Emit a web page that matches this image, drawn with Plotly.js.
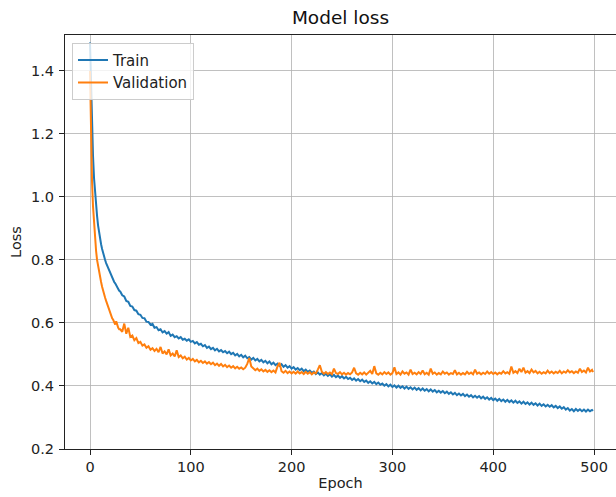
<!DOCTYPE html>
<html>
<head>
<meta charset="utf-8">
<script src="https://cdn.plot.ly/plotly-3.0.1.min.js"></script>
<style>html,body{margin:0;padding:0;background:#fff;}#chart{width:616px;height:497px;}</style>
</head>
<body>
<div id="chart"></div>
<script>
const epochs = [0,1,2,3,4,5,6,7,8,9,10,11,12,13,14,15,16,17,18,19,20,21,22,23,24,25,26,27,28,29,
30,32,34,36,38,40,42,44,46,48,
50,52,54,56,58,60,62,64,66,68,
70,72,74,76,78,80,82,84,86,88,
90,92,94,96,98,100,102,104,106,108,
110,112,114,116,118,120,122,124,126,128,
130,132,134,136,138,140,142,144,146,148,
150,152,154,156,158,160,162,164,166,168,
170,172,174,176,178,180,182,184,186,188,
190,192,194,196,198,200,202,204,206,208,
210,212,214,216,218,220,222,224,226,228,
230,232,234,236,238,240,242,244,246,248,
250,252,254,256,258,260,262,264,266,268,
270,272,274,276,278,280,282,284,286,288,
290,292,294,296,298,300,302,304,306,308,
310,312,314,316,318,320,322,324,326,328,
330,332,334,336,338,340,342,344,346,348,
350,352,354,356,358,360,362,364,366,368,
370,372,374,376,378,380,382,384,386,388,
390,392,394,396,398,400,402,404,406,408,
410,412,414,416,418,420,422,424,426,428,
430,432,434,436,438,440,442,444,446,448,
450,452,454,456,458,460,462,464,466,468,
470,472,474,476,478,480,482,484,486,488,
490,492,494,496,498,499];

const trainLoss = [1.49,1.33,1.22,1.13,1.06,1.01,0.97,0.94,0.91,0.885,0.865,0.85,0.835,0.82,0.81,0.80,0.79,0.782,0.772,0.768,0.762,0.752,0.745,0.738,0.73,0.726,0.718,0.713,0.708,0.702,
0.700,0.688,0.684,0.670,0.667,0.654,0.652,0.641,0.639,0.628,
0.626,0.616,0.615,0.604,0.603,0.594,0.597,0.585,0.587,0.577,
0.580,0.570,0.574,0.566,0.571,0.559,0.563,0.555,0.558,0.551,
0.555,0.547,0.550,0.544,0.548,0.540,0.543,0.535,0.539,0.531,
0.534,0.526,0.530,0.521,0.525,0.517,0.521,0.513,0.518,0.510,
0.514,0.507,0.511,0.504,0.509,0.501,0.505,0.497,0.502,0.494,
0.499,0.491,0.496,0.488,0.492,0.484,0.489,0.481,0.486,0.478,
0.483,0.475,0.480,0.472,0.478,0.469,0.474,0.466,0.471,0.464,
0.469,0.461,0.466,0.458,0.463,0.455,0.460,0.452,0.457,0.450,
0.455,0.447,0.452,0.445,0.449,0.442,0.446,0.438,0.443,0.436,
0.441,0.434,0.439,0.432,0.437,0.430,0.435,0.428,0.433,0.426,
0.431,0.424,0.429,0.422,0.426,0.419,0.424,0.417,0.422,0.415,
0.420,0.413,0.417,0.410,0.415,0.408,0.413,0.406,0.411,0.404,
0.408,0.401,0.406,0.399,0.404,0.397,0.402,0.395,0.401,0.394,
0.399,0.392,0.398,0.391,0.396,0.389,0.395,0.388,0.393,0.386,
0.392,0.385,0.390,0.383,0.389,0.382,0.387,0.380,0.385,0.379,
0.384,0.377,0.382,0.375,0.380,0.373,0.378,0.371,0.376,0.370,
0.375,0.368,0.373,0.366,0.371,0.364,0.369,0.363,0.368,0.361,
0.366,0.359,0.364,0.357,0.362,0.355,0.360,0.353,0.359,0.352,
0.357,0.350,0.356,0.349,0.354,0.347,0.353,0.346,0.351,0.344,
0.350,0.343,0.348,0.341,0.347,0.340,0.345,0.338,0.344,0.337,
0.342,0.335,0.340,0.334,0.339,0.332,0.337,0.330,0.335,0.328,
0.333,0.325,0.330,0.322,0.327,0.320,0.327,0.321,0.326,0.320,
0.325,0.319,0.325,0.320,0.324,0.321];

const valLoss = [1.40,1.17,1.05,0.97,0.91,0.86,0.83,0.80,0.78,0.765,0.745,0.73,0.715,0.70,0.69,0.68,0.67,0.66,0.65,0.64,0.635,0.625,0.615,0.61,0.60,0.595,0.605,0.59,0.585,0.58,
0.580,0.572,0.598,0.566,0.585,0.556,0.560,0.545,0.552,0.536,
0.540,0.528,0.532,0.521,0.526,0.515,0.520,0.511,0.518,0.507,
0.524,0.503,0.510,0.500,0.516,0.497,0.503,0.494,0.513,0.492,
0.497,0.488,0.493,0.484,0.489,0.481,0.486,0.478,0.483,0.475,
0.480,0.473,0.478,0.471,0.476,0.469,0.474,0.466,0.471,0.464,
0.470,0.462,0.467,0.460,0.465,0.458,0.463,0.456,0.461,0.455,
0.459,0.453,0.458,0.470,0.489,0.462,0.455,0.450,0.455,0.448,
0.453,0.446,0.451,0.445,0.450,0.444,0.449,0.443,0.462,0.474,
0.447,0.442,0.448,0.441,0.446,0.440,0.445,0.439,0.446,0.440,
0.444,0.438,0.445,0.439,0.444,0.437,0.443,0.440,0.452,0.466,
0.445,0.439,0.444,0.438,0.443,0.437,0.455,0.441,0.438,0.444,
0.437,0.442,0.436,0.441,0.437,0.443,0.458,0.440,0.436,0.442,
0.437,0.443,0.436,0.441,0.448,0.438,0.463,0.440,0.436,0.442,
0.437,0.444,0.438,0.443,0.436,0.441,0.459,0.438,0.443,0.436,
0.446,0.439,0.443,0.436,0.452,0.438,0.442,0.437,0.444,0.438,
0.449,0.437,0.442,0.436,0.455,0.439,0.443,0.436,0.441,0.437,
0.446,0.439,0.443,0.436,0.441,0.438,0.450,0.437,0.442,0.436,
0.441,0.437,0.445,0.438,0.443,0.437,0.452,0.439,0.443,0.437,
0.442,0.438,0.446,0.439,0.444,0.438,0.443,0.437,0.442,0.439,
0.447,0.440,0.444,0.439,0.462,0.442,0.447,0.441,0.455,0.444,
0.458,0.442,0.447,0.441,0.452,0.443,0.448,0.440,0.445,0.439,
0.444,0.440,0.449,0.441,0.446,0.440,0.445,0.441,0.448,0.440,
0.446,0.442,0.450,0.443,0.447,0.441,0.446,0.442,0.455,0.444,
0.449,0.443,0.458,0.446,0.451,0.444];

const seriesNames = ['Train', 'Validation'];
const titleText = 'Model loss';
const xLabel = 'Epoch';
const yLabel = 'Loss';
const xTicks = [0,100,200,300,400,500];
const yTicks = [0.2,0.4,0.6,0.8,1.0,1.2,1.4];

const font = 'DejaVu Sans, sans-serif';
const data = [
  {x: epochs, y: trainLoss, name: seriesNames[0], type: 'scatter', mode: 'lines',
   line: {color: '#1f77b4', width: 2}},
  {x: epochs, y: valLoss, name: seriesNames[1], type: 'scatter', mode: 'lines',
   line: {color: '#ff7f0e', width: 2}}
];
const axisCommon = {
  showline: true, linecolor: '#222', linewidth: 1, mirror: true,
  showgrid: true, gridcolor: '#b0b0b0', gridwidth: 0.8,
  ticks: 'outside', ticklen: 5, tickcolor: '#222', tickwidth: 1,
  zeroline: false, tickfont: {family: font, size: 14.5, color: '#222'}
};
const layout = {
  width: 616, height: 497,
  paper_bgcolor: '#fff', plot_bgcolor: '#fff',
  margin: {l: 65, r: 0, t: 35, b: 48},
  title: {text: titleText, font: {family: font, size: 18.5, color: '#111'},
          x: 0.5, xref: 'paper', y: 1 - 18/497, yref: 'container', yanchor: 'middle'},
  xaxis: Object.assign({}, axisCommon, {
    range: [-24.8, 521.8], tickvals: xTicks, ticktext: xTicks.map(String),
    title: {text: xLabel, font: {family: font, size: 14.5, color: '#222'}, standoff: 3}
  }),
  yaxis: Object.assign({}, axisCommon, {
    range: [0.2, 1.514], tickvals: yTicks, ticktext: yTicks.map(v => v.toFixed(1)),
    ticklabelstandoff: 2,
    title: {text: yLabel, font: {family: font, size: 14.5, color: '#222'}, standoff: 5}
  }),
  showlegend: true,
  legend: {x: 0.0127, y: 0.981, xanchor: 'left', yanchor: 'top',
           bgcolor: 'rgba(255,255,255,0.8)', bordercolor: '#cccccc', borderwidth: 1,
           font: {family: font, size: 15, color: '#222'}, tracegroupgap: 0}
};
Plotly.newPlot('chart', data, layout, {displayModeBar: false, staticPlot: true});
</script>
</body>
</html>
